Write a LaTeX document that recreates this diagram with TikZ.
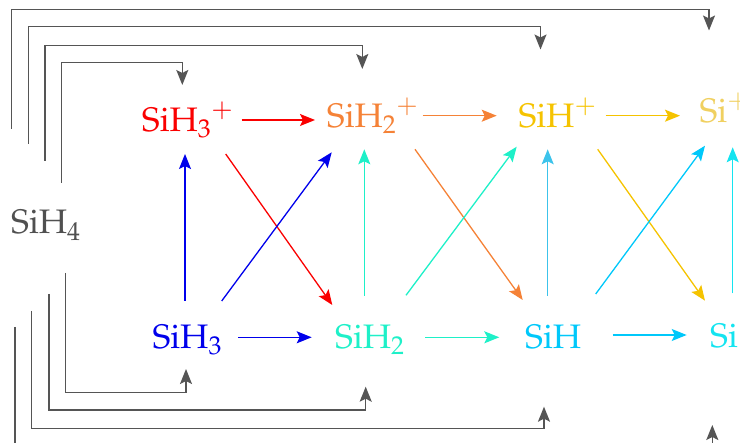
\documentclass[tikz,border=0pt]{standalone}
\usepackage[T1]{fontenc}
\usepackage{mathpazo}
\usetikzlibrary{arrows.meta,calc}
\definecolor{cgray}{RGB}{85,85,85}
\definecolor{ctext}{RGB}{80,80,80}
\definecolor{cred}{RGB}{250,0,0}
\definecolor{corange}{RGB}{245,130,55}
\definecolor{cgold}{RGB}{245,195,0}
\definecolor{clgold}{RGB}{240,208,96}
\definecolor{cblue}{RGB}{0,0,235}
\definecolor{caqua}{RGB}{30,240,200}
\definecolor{csky}{RGB}{0,200,250}
\definecolor{csky2}{RGB}{60,195,235}
\definecolor{ccyan}{RGB}{20,228,240}
\begin{document}
\begin{tikzpicture}[x=1pt,y=-1pt,
  sp/.style={anchor=base west,inner sep=0pt,font=\fontsize{34}{40}\selectfont},
  arr/.style={line width=1.3pt,-{Stealth[length=15pt,width=12pt,inset=3pt]}},
  garr/.style={arr,draw=cgray,line width=1.4pt}]
\useasboundingbox (0,0) rectangle (740,443);
\clip (0,0) rectangle (740,443);
% species
\node[sp,text=ctext]  (s4) at (11,234)      {$\mathrm{SiH_4}$};
\node[sp,text=cred]   (p3) at (141.7,131.7) {$\mathrm{SiH_3}^{+}$};
\node[sp,text=corange](p2) at (326.7,128)   {$\mathrm{SiH_2}^{+}$};
\node[sp,text=cgold]  (p1) at (518.3,127.3) {$\mathrm{SiH}^{+}$};
\node[sp,text=clgold] (p0) at (699.3,122.3) {$\mathrm{Si}^{+}$};
\node[sp,text=cblue]  (n3) at (152.3,349)   {$\mathrm{SiH_3}$};
\node[sp,text=caqua]  (n2) at (335,349)     {$\mathrm{SiH_2}$};
\node[sp,text=csky]   (n1) at (525,349)     {$\mathrm{SiH}$};
\node[sp,text=ccyan]  (n0) at (710,348)     {$\mathrm{Si}$};
% horizontal, top row
\draw[arr,cred]    ($(p3.base west)+(100,-11.7)$) -- ($(p2.base west)+(-11.7,-8)$);
\draw[arr,corange] ($(p2.base west)+(96,-12.3)$)  -- ($(p1.base west)+(-21.6,-11.6)$);
\draw[arr,cgold]   ($(p1.base west)+(87.4,-11.6)$) -- ($(p0.base west)+(-19.3,-6.6)$);
% horizontal, bottom row
\draw[arr,cblue]   ($(n3.base west)+(86,-11.7)$)  -- ($(n2.base west)+(-23.3,-11.7)$);
\draw[arr,caqua]   ($(n2.base west)+(90,-11.7)$)  -- ($(n1.base west)+(-25.7,-11.7)$);
\draw[arr,csky]    ($(n1.base west)+(87.7,-14)$)  -- ($(n0.base west)+(-23.3,-13)$);
% vertical
\draw[arr,cblue]   ($(n3.base west)+(32.7,-48.3)$) -- ($(p3.base west)+(43.3,22.3)$);
\draw[arr,caqua]   ($(n2.base west)+(29.3,-53)$)   -- ($(p2.base west)+(37.6,21.3)$);
\draw[arr,csky2]   ($(n1.base west)+(22.7,-53)$)   -- ($(p1.base west)+(29.4,22)$);
\draw[arr,ccyan]   ($(n0.base west)+(22.7,-54.7)$) -- ($(p0.base west)+(33.4,25)$);
% diagonal
\draw[arr,cred]    ($(p3.base west)+(84,22.3)$)    -- ($(n2.base west)+(-2.7,-44)$);
\draw[arr,cblue]   ($(n3.base west)+(69.4,-48)$)   -- ($(p2.base west)+(5,24.3)$);
\draw[arr,corange] ($(p2.base west)+(88.3,21.3)$)  -- ($(n1.base west)+(-2.3,-49)$);
\draw[arr,caqua]   ($(n2.base west)+(71,-53.7)$)   -- ($(p1.base west)+(-1.6,19.4)$);
\draw[arr,cgold]   ($(p1.base west)+(79.4,22)$)    -- ($(n0.base west)+(-5,-47.3)$);
\draw[arr,csky]    ($(n1.base west)+(70.7,-55)$)   -- ($(p0.base west)+(5.7,23.4)$);
% SiH4 feeds, top
\draw[garr] ($(s4.base west)+(50.7,-51)$) -- ++(0,-120.7) -| ($(p3.base west)+(40.6,-46.7)$);
\draw[garr] ($(s4.base west)+(34,-73)$)   -- ++(0,-115.3) -| ($(p2.base west)+(35.6,-59)$);
\draw[garr] ($(s4.base west)+(17.3,-90)$) -- ++(0,-117.2) -| ($(p1.base west)+(22.2,-77.8)$);
\draw[garr] ($(s4.base west)+(0.7,-105)$) -- ++(0,-119.3) -| ($(p0.base west)+(9.7,-91.8)$);
% SiH4 feeds, bottom
\draw[garr] ($(s4.base west)+(54.7,39)$)  -- ++(0,119.3) -| ($(n3.base west)+(33.7,20)$);
\draw[garr] ($(s4.base west)+(38,60)$)    -- ++(0,116)   -| ($(n2.base west)+(30.7,37.7)$);
\draw[garr] ($(s4.base west)+(20.7,77)$)  -- ++(0,117.5) -| ($(n1.base west)+(19,57.7)$);
\draw[garr] ($(s4.base west)+(4,93)$)     -- ++(0,120)   -| ($(n0.base west)+(2.3,77)$);
\end{tikzpicture}
\end{document}
